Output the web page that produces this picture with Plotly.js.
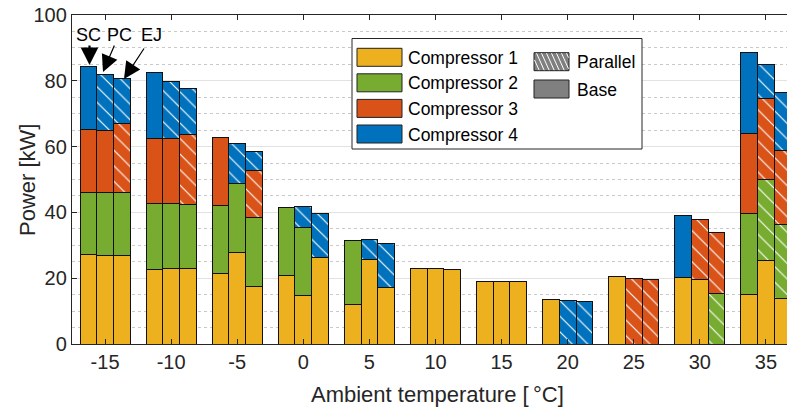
<!DOCTYPE html>
<html>
<head>
<meta charset="utf-8">
<script src="https://cdn.plot.ly/plotly-3.0.1.min.js"></script>
<style>
html,body{margin:0;padding:0;overflow:hidden;background:#fff;}
#chart{width:810px;height:410px;}
</style>
</head>
<body>
<div id="chart"></div>
<script>
// ---------------- DATA ----------------
const temps = [-15, -10, -5, 0, 5, 10, 15, 20, 25, 30, 35];
const configs = ['SC', 'PC', 'EJ'];
const compressorNames = ['Compressor 1', 'Compressor 2', 'Compressor 3', 'Compressor 4'];
const compressorColors = ['#EDB120', '#77AC30', '#D95319', '#0072BD'];

// SC
const SC_c1 = [27.1, 22.5, 21.3, 20.9, 11.9, 23.0, 19.0, 13.5, 20.5, 20.1, 15.1];
const SC_c2 = [19.0, 20.1, 20.7, 20.5, 19.5, null, null, null, null, null, 24.5];
const SC_c3 = [19.2, 19.8, 20.9, null, null, null, null, null, null, null, 24.3];
const SC_c4 = [18.9, 20.0, null, null, null, null, null, null, null, 19.0, 24.6];
// PC
const PC_c1 = [26.9, 22.8, 27.7, 14.6, 25.8, 22.9, 19.0, null, null, 19.5, 25.4];
const PC_c2 = [19.2, 19.9, 21.0, 20.7, null, null, null, null, null, null, 24.5];
const PC_c3 = [18.8, 19.9, null, null, null, null, null, null, 19.8, 18.4, 24.6];
const PC_c4 = [16.9, 17.2, 12.2, 6.5, 5.9, null, null, 13.3, null, null, 10.4];
// EJ
const EJ_c1 = [26.9, 22.8, 17.6, 26.4, 17.3, 22.7, 19.0, null, null, null, 13.8];
const EJ_c2 = [19.2, 19.5, 21.0, null, null, null, null, null, null, 15.3, 22.4];
const EJ_c3 = [20.9, 21.3, 14.2, null, null, null, null, null, 19.5, 18.7, 22.6];
const EJ_c4 = [13.8, 14.1, 5.7, 13.4, 13.2, null, null, 12.9, null, null, 17.5];

// Parallel (hatched) flags: 1 = parallel compressor, 0 = base
const SC_p1 = [0,0,0,0,0,0,0,0,0,0,0];
const SC_p2 = [0,0,0,0,0,0,0,0,0,0,0];
const SC_p3 = [0,0,0,0,0,0,0,0,0,0,0];
const SC_p4 = [0,0,0,0,0,0,0,0,0,0,0];
const PC_p1 = [0,0,0,0,0,0,0,0,0,0,0];
const PC_p2 = [0,0,0,0,0,0,0,0,0,0,1];
const PC_p3 = [0,0,0,0,0,0,0,0,1,1,1];
const PC_p4 = [1,1,1,1,1,1,1,1,1,1,1];
const EJ_p1 = [0,0,0,0,0,0,0,0,0,0,0];
const EJ_p2 = [0,0,0,0,0,0,0,0,0,1,1];
const EJ_p3 = [1,1,1,1,1,1,1,1,1,1,1];
const EJ_p4 = [1,1,1,1,1,1,1,1,1,1,1];

const legendTypes = ['Parallel', 'Base'];

// ---------------- BUILD ----------------
const values = {SC:[SC_c1,SC_c2,SC_c3,SC_c4], PC:[PC_c1,PC_c2,PC_c3,PC_c4], EJ:[EJ_c1,EJ_c2,EJ_c3,EJ_c4]};
const flags  = {SC:[SC_p1,SC_p2,SC_p3,SC_p4], PC:[PC_p1,PC_p2,PC_p3,PC_p4], EJ:[EJ_p1,EJ_p2,EJ_p3,EJ_p4]};
const barW = 1.26;
const slot = {SC:-1, PC:0, EJ:1};

const traces = [];
for (let c = 0; c < 4; c++) {
  for (const cfg of configs) {
    traces.push({
      type: 'bar',
      name: cfg + ' ' + compressorNames[c],
      x: temps.map(t => t + slot[cfg] * barW),
      y: values[cfg][c],
      width: barW,
      marker: {
        color: compressorColors[c],
        line: {color: '#111', width: 1},
        pattern: {shape: flags[cfg][c].map(f => f ? '\\' : ''), fgcolor: '#ffffff', bgcolor: compressorColors[c], fillmode: 'replace', size: 11, solidity: 0.1}
      },
      showlegend: false,
      hoverinfo: 'skip'
    });
  }
}

// pixel -> paper helpers (plot area 72..799 x 15..344)
const PL = 72, PR = 799, PT = 15, PB = 344;
const px = x => (x - PL) / (PR - PL);
const py = y => (PB - y) / (PB - PT);

const shapes = [];
const annotations = [];
const FONT = '"Liberation Sans", Arial, Helvetica, sans-serif';
const TXT = '#262626';

// legend box
shapes.push({type:'rect', xref:'paper', yref:'paper', x0:px(352), x1:px(642), y0:py(38.5), y1:py(149), line:{color:'#262626', width:1}, fillcolor:'#ffffff', layer:'above'});
const rowTop = [48.3, 73.8, 99.4, 125];
for (let c = 0; c < 4; c++) {
  shapes.push({type:'rect', xref:'paper', yref:'paper', x0:px(357), x1:px(402), y0:py(rowTop[c]), y1:py(rowTop[c]+18), line:{color:'#222', width:1}, fillcolor:compressorColors[c], layer:'above'});
  annotations.push({xref:'paper', yref:'paper', x:px(406), y:py(rowTop[c]+9.5), text:compressorNames[c], showarrow:false, xanchor:'left', yanchor:'middle', font:{family:FONT, size:17.5, color:'#000'}});
}
// Parallel / Base swatches
const typeTop = [52.7, 80];
for (let i = 0; i < 2; i++) {
  shapes.push({type:'rect', xref:'paper', yref:'paper', x0:px(534), x1:px(569), y0:py(typeTop[i]), y1:py(typeTop[i]+18), line:{color:'#222', width:1}, fillcolor:'#808080', layer:'above'});
  annotations.push({xref:'paper', yref:'paper', x:px(575), y:py(typeTop[i]+9.5), text:legendTypes[i], showarrow:false, xanchor:'left', yanchor:'middle', font:{family:FONT, size:17.5, color:'#000'}});
}
// hatch lines for Parallel swatch
(function(){
  const x0 = 534.5, x1 = 568.5, y0 = typeTop[0]+0.5, y1 = typeTop[0]+17.5, k = 0.45;
  for (let xs = x0 - 8; xs < x1; xs += 5) {
    let ya = y0, yb = y1;
    let xa = xs, xb = xs + (y1 - y0) * k;
    if (xa < x0) { ya = y0 + (x0 - xa) / k; xa = x0; }
    if (xb > x1) { yb = y0 + (x1 - xs) / k; xb = x1; }
    if (ya >= yb) continue;
    shapes.push({type:'line', xref:'paper', yref:'paper', x0:px(xa), y0:py(ya), x1:px(xb), y1:py(yb), line:{color:'#ffffff', width:1}, layer:'above'});
  }
})();

// SC / PC / EJ labels and arrows
const labelX = [88.5, 119, 151];
const heads = [[89.5, 65], [103, 72], [124, 79]];
const tails = [[89.5, 44], [115, 44], [145, 47]];
const arrW = [2.2, 1.2, 1.2];
const arrS = [1.6, 2.8, 2.8];
for (let i = 0; i < 3; i++) {
  annotations.push({xref:'paper', yref:'paper', x:px(labelX[i]), y:py(35), text:configs[i], showarrow:false, xanchor:'center', yanchor:'middle', font:{family:FONT, size:18, color:'#000'}});
  annotations.push({xref:'paper', yref:'paper', x:px(heads[i][0]), y:py(heads[i][1]), text:'', showarrow:true,
    ax: tails[i][0]-heads[i][0], ay: tails[i][1]-heads[i][1], arrowhead:2, arrowsize:arrS[i], arrowwidth:arrW[i], arrowcolor:'#000', standoff:0, startstandoff:0});
}

// axis titles
annotations.push({xref:'paper', yref:'paper', x:px(437), y:py(394), text:'Ambient temperature [\u2009°C]', showarrow:false, xanchor:'center', yanchor:'middle', font:{family:FONT, size:22, color:TXT}});
annotations.push({xref:'paper', yref:'paper', x:px(27), y:py(180), text:'Power [kW]', textangle:-90, showarrow:false, xanchor:'center', yanchor:'middle', font:{family:FONT, size:22, color:TXT}});

const layout = {
  width: 810, height: 410,
  margin: {l: PL, r: 810 - PR, t: PT, b: 410 - PB, pad: 0},
  barmode: 'stack', bargap: 0,
  paper_bgcolor: '#ffffff', plot_bgcolor: '#ffffff',
  font: {family: FONT, color: TXT, size: 20},
  showlegend: false,
  xaxis: {
    range: [-17.5, 37.5], tickmode: 'array', tickvals: temps, ticktext: temps.map(String),
    ticks: 'inside', ticklen: 5, tickwidth: 1, tickcolor: TXT,
    showline: true, linecolor: TXT, linewidth: 1.2, mirror: 'ticks',
    showgrid: false, zeroline: false, tickfont: {size: 20, color: TXT}, fixedrange: true
  },
  yaxis: {
    range: [0, 100], tickmode: 'linear', tick0: 0, dtick: 20,
    ticks: 'inside', ticklen: 5, tickwidth: 1, tickcolor: TXT,
    showline: true, linecolor: TXT, linewidth: 1.2, mirror: 'ticks',
    showgrid: true, gridcolor: '#e2e2e2', gridwidth: 1.3, zeroline: false,
    minor: {dtick: 5, showgrid: true, gridcolor: '#c9c9c9', griddash: 'dot', gridwidth: 1},
    tickfont: {size: 20, color: TXT}, fixedrange: true
  },
  shapes: shapes,
  annotations: annotations
};

Plotly.newPlot('chart', traces, layout, {staticPlot: true, displayModeBar: false});
</script>
</body>
</html>
